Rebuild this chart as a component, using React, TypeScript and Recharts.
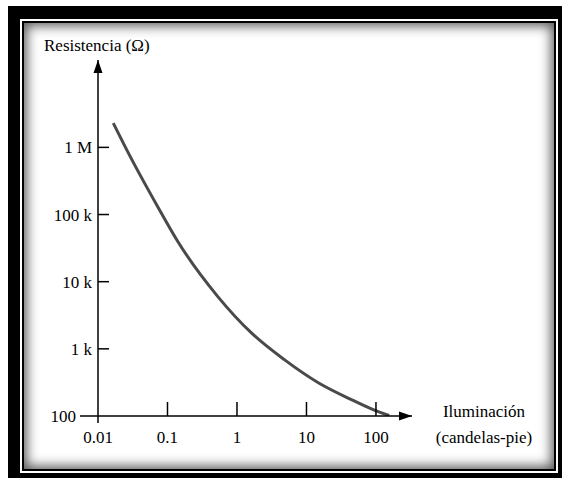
import React from 'react';
import { LineChart, Line, XAxis, YAxis, ReferenceDot } from 'recharts';

// valores (escala log en ambos ejes)
const iluminacion = [0.0166, 0.029, 0.072, 0.14, 0.53, 1.6, 4.8, 15, 45, 110, 155];
const resistencia = [2300000, 735000, 132000, 40000, 6000, 1740, 690, 310, 174, 115, 102];

const xTicks = [0.01, 0.1, 1, 10, 100];
const xTickLabels = ['0.01', '0.1', '1', '10', '100'];
const yTicks = [100, 1000, 10000, 100000, 1000000];
const yTickLabels = ['100', '1 k', '10 k', '100 k', '1 M'];

const X_MAX = 330;
const Y_MAX = 20000000;

const data = iluminacion.map((x, i) => ({ x, r: resistencia[i] }));

const FONT = '"Liberation Serif", "DejaVu Serif", serif';

function XTick(props: any) {
  const { x, y, payload } = props;
  const i = xTicks.indexOf(payload.value);
  const first = i === 0;
  return (
    <g>
      {first ? (
        <line x1={x} y1={y} x2={x} y2={y + 7} stroke="#000" strokeWidth={1.5} />
      ) : (
        <line x1={x} y1={y} x2={x} y2={y - 14} stroke="#000" strokeWidth={1.5} />
      )}
      <text x={x} y={y + 27} textAnchor="middle" fontSize={17} fontFamily={FONT} fill="#000">
        {xTickLabels[i]}
      </text>
    </g>
  );
}

function YTick(props: any) {
  const { x, y, payload } = props;
  const i = yTicks.indexOf(payload.value);
  const first = i === 0;
  return (
    <g>
      {first ? (
        <line x1={x - 18} y1={y} x2={x} y2={y} stroke="#000" strokeWidth={1.5} />
      ) : (
        <line x1={x} y1={y} x2={x + 11} y2={y} stroke="#000" strokeWidth={1.5} />
      )}
      <text x={first ? x - 22 : x - 6} y={y + 6} textAnchor="end" fontSize={17} fontFamily={FONT} fill="#000">
        {yTickLabels[i]}
      </text>
    </g>
  );
}

const arrowRight = (p: any) => (
  <path d={`M${p.cx},${p.cy} L${p.cx - 13},${p.cy - 4.5} L${p.cx - 13},${p.cy + 4.5} Z`} fill="#000" />
);
const arrowUp = (p: any) => (
  <path d={`M${p.cx},${p.cy} L${p.cx - 4.5},${p.cy + 13} L${p.cx + 4.5},${p.cy + 13} Z`} fill="#000" />
);

export default function App() {
  return (
    <div style={{ position: 'absolute', left: 0, top: 0, width: 562, height: 478, background: '#fff' }}>
      <div style={{ position: 'absolute', left: 8, top: 6, right: 0, bottom: 0, background: '#000' }} />
      <div style={{ position: 'absolute', left: 20, top: 19, right: 4, bottom: 5, background: '#fff' }} />
      <div
        style={{
          position: 'absolute',
          left: 22,
          top: 21,
          right: 6,
          bottom: 7,
          background: '#fff',
          border: '2px solid #000',
          boxShadow: 'inset 0 0 12px 3px rgba(0,0,0,0.65)',
        }}
      />
      <div style={{ position: 'absolute', left: 0, top: 0 }}>
        <LineChart width={562} height={478} data={data} margin={{ top: 60, left: 38, right: 150, bottom: 32 }}>
          <XAxis
            dataKey="x"
            type="number"
            scale="log"
            domain={[0.01, X_MAX]}
            allowDataOverflow
            ticks={xTicks}
            tick={<XTick />}
            tickLine={false}
            tickSize={0}
            tickMargin={0}
            interval={0}
            axisLine={{ stroke: '#000', strokeWidth: 1.5 }}
            label={(p: any) => {
              const vb = p.viewBox;
              const cx = vb.x + vb.width + 72;
              return (
                <g>
                  <text x={cx} y={vb.y + 1} textAnchor="middle" fontSize={17} fontFamily={FONT} fill="#000">
                    Iluminación
                  </text>
                  <text x={cx} y={vb.y + 27} textAnchor="middle" fontSize={17} fontFamily={FONT} fill="#000">
                    (candelas-pie)
                  </text>
                </g>
              );
            }}
          />
          <YAxis
            type="number"
            scale="log"
            domain={[100, Y_MAX]}
            allowDataOverflow
            ticks={yTicks}
            tick={<YTick />}
            tickLine={false}
            tickSize={0}
            tickMargin={0}
            interval={0}
            width={60}
            axisLine={{ stroke: '#000', strokeWidth: 1.5 }}
            label={(p: any) => {
              const vb = p.viewBox;
              return (
                <text x={vb.x + vb.width - 54} y={vb.y - 9} fontSize={17} fontFamily={FONT} fill="#000">
                  Resistencia (Ω)
                </text>
              );
            }}
          />
          <Line
            dataKey="r"
            type="monotone"
            stroke="#4a4a4a"
            strokeWidth={3}
            dot={false}
            isAnimationActive={false}
          />
          <ReferenceDot x={X_MAX} y={100} ifOverflow="visible" shape={arrowRight} />
          <ReferenceDot x={0.01} y={Y_MAX} ifOverflow="visible" shape={arrowUp} />
        </LineChart>
      </div>
    </div>
  );
}
